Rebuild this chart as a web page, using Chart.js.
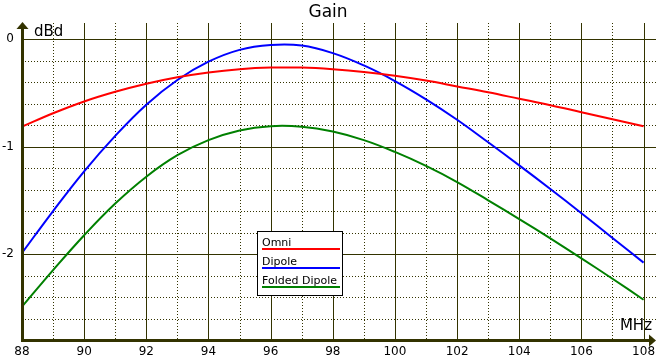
<!DOCTYPE html>
<html>
<head>
<meta charset="utf-8">
<script src="https://cdn.jsdelivr.net/npm/chart.js@4.4.1/dist/chart.umd.min.js"></script>
<style>
  html, body { margin: 0; padding: 0; background: #fff; }
  #wrap { width: 656px; height: 360px; }
</style>
</head>
<body>
<div id="wrap"><canvas id="gainChart" width="656" height="360"></canvas></div>
<script>
// frequency in MHz, gain in dBd
const mhz = [88, 89, 90, 91, 92, 93, 94, 95, 96, 97, 98, 99, 100, 101, 102, 103, 104, 105, 106, 107, 108];
const omni = [-0.815, -0.69, -0.58, -0.49, -0.415, -0.355, -0.31, -0.28, -0.265, -0.265, -0.28, -0.305, -0.34, -0.385, -0.44, -0.495, -0.555, -0.615, -0.68, -0.745, -0.81];
const dipole = [-1.99, -1.60, -1.23, -0.90, -0.61, -0.38, -0.21, -0.10, -0.055, -0.06, -0.13, -0.245, -0.39, -0.56, -0.75, -0.96, -1.175, -1.395, -1.62, -1.85, -2.08];
const foldedDipole = [-2.49, -2.15, -1.825, -1.53, -1.28, -1.08, -0.94, -0.85, -0.81, -0.815, -0.86, -0.94, -1.05, -1.18, -1.33, -1.50, -1.675, -1.855, -2.04, -2.23, -2.425];

const xTicks = [88, 90, 92, 94, 96, 98, 100, 102, 104, 106, 108];
const yTicks = [0, -1, -2];

const GRID = '#333300';
const FONT = 'DejaVu Sans';
Chart.defaults.font.family = FONT;

// grid: solid every 2 MHz / 1 dBd, dotted in between
const gridPlugin = {
    id: 'gridPlugin',
    beforeDatasetsDraw(chart) {
        const { ctx, chartArea: a, scales: { x, y } } = chart;
        ctx.save();
        ctx.strokeStyle = GRID;
        ctx.lineWidth = 1;
        for (let v = 89; v <= 108; v++) {
            const px = Math.round(x.getPixelForValue(v)) + 0.5;
            ctx.setLineDash(v % 2 === 0 ? [] : [1, 2]);
            ctx.beginPath();
            ctx.moveTo(px, a.top);
            ctx.lineTo(px, a.bottom);
            ctx.stroke();
        }
        for (let i = 0; i <= 13; i++) {
            const v = -i * 0.2;
            const py = Math.round(y.getPixelForValue(v)) + 0.5;
            ctx.setLineDash(i % 5 === 0 ? [] : [1, 2]);
            ctx.beginPath();
            ctx.moveTo(a.left, py);
            ctx.lineTo(a.right, py);
            ctx.stroke();
        }
        ctx.restore();
    },
    afterDatasetsDraw(chart) {
        const { ctx, chartArea: a } = chart;
        ctx.save();
        // axes with arrows
        ctx.fillStyle = GRID;
        ctx.fillRect(a.left - 1, a.top + 5, 3, a.bottom - a.top - 4);
        ctx.fillRect(a.left - 1, a.bottom - 1, a.right - a.left - 5, 3);
        ctx.beginPath();
        ctx.moveTo(a.left + 0.5, a.top - 1);
        ctx.lineTo(a.left - 5.5, a.top + 6);
        ctx.lineTo(a.left + 6.5, a.top + 6);
        ctx.closePath();
        ctx.fill();
        ctx.beginPath();
        ctx.moveTo(a.right, a.bottom + 0.5);
        ctx.lineTo(a.right - 7, a.bottom - 5.5);
        ctx.lineTo(a.right - 7, a.bottom + 6.5);
        ctx.closePath();
        ctx.fill();

        // axis units
        ctx.fillStyle = '#000';
        ctx.font = '15px "' + FONT + '"';
        ctx.textBaseline = 'alphabetic';
        ctx.textAlign = 'left';
        ctx.fillText('dBd', a.left + 12, a.top + 13);
        ctx.textAlign = 'right';
        ctx.fillText('MHz', a.right - 4, a.bottom - 10);

        // legend
        const bx = 257, by = 231, bw = 86, bh = 65;
        ctx.fillStyle = '#fff';
        ctx.fillRect(bx, by, bw, bh);
        ctx.strokeStyle = '#000';
        ctx.lineWidth = 1;
        ctx.strokeRect(bx + 0.5, by + 0.5, bw - 1, bh - 1);
        ctx.font = '11px "' + FONT + '"';
        ctx.textAlign = 'left';
        chart.data.datasets.forEach((ds, i) => {
            const ty = by + 15 + i * 19;
            ctx.fillStyle = '#000';
            ctx.fillText(ds.label, bx + 5, ty);
            ctx.fillStyle = ds.borderColor;
            ctx.fillRect(bx + 5, ty + 2, 78, 2);
        });
        ctx.restore();
    }
};

new Chart(document.getElementById('gainChart'), {
    type: 'line',
    data: {
        datasets: [
            { label: 'Omni', data: mhz.map((f, i) => ({ x: f, y: omni[i] })), borderColor: '#ff0000' },
            { label: 'Dipole', data: mhz.map((f, i) => ({ x: f, y: dipole[i] })), borderColor: '#0000ff' },
            { label: 'Folded Dipole', data: mhz.map((f, i) => ({ x: f, y: foldedDipole[i] })), borderColor: '#008000' }
        ]
    },
    options: {
        responsive: false,
        animation: false,
        layout: { padding: 0 },
        elements: {
            line: { borderWidth: 2, tension: 0.4, fill: false },
            point: { radius: 0 }
        },
        plugins: {
            legend: { display: false },
            tooltip: { enabled: false },
            title: {
                display: true,
                text: 'Gain',
                color: '#000',
                font: { size: 17, weight: 'normal' },
                padding: { top: 2, bottom: 0.6 }
            }
        },
        scales: {
            x: {
                type: 'linear',
                min: 88,
                max: 108.4,
                afterBuildTicks: s => { s.ticks = xTicks.map(v => ({ value: v })); },
                afterFit: s => { s.height = 20; s.paddingLeft = 0; s.paddingRight = 0; },
                grid: { display: false, drawTicks: false },
                border: { display: false },
                ticks: { color: '#000', font: { size: 12 }, padding: 5, autoSkip: false, maxRotation: 0 }
            },
            y: {
                type: 'linear',
                min: -2.8,
                max: 0.15,
                afterBuildTicks: s => { s.ticks = yTicks.map(v => ({ value: v })); },
                afterFit: s => { s.width = 22; s.paddingTop = 0; s.paddingBottom = 0; },
                grid: { display: false, drawTicks: false },
                border: { display: false },
                ticks: { color: '#000', font: { size: 12 }, padding: 8 }
            }
        }
    },
    plugins: [gridPlugin]
});
</script>
</body>
</html>
